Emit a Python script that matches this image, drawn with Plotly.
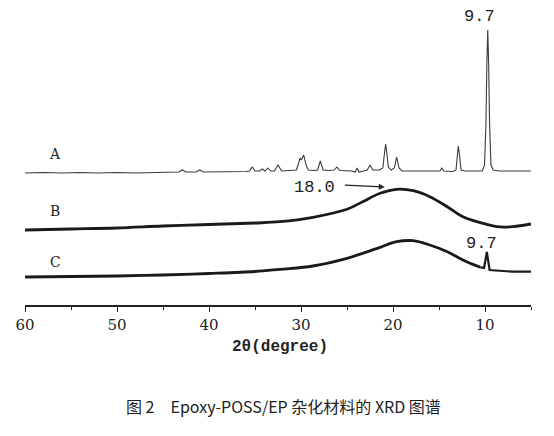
import plotly.graph_objects as go

# XRD patterns of Epoxy-POSS/EP hybrids (stacked, a.u.)
# curve A: crystalline Epoxy-POSS
theta_a = [60, 58, 56, 54, 52, 50, 48, 46, 44, 43.3, 42.9, 42.5, 41.4, 41, 40.6, 39, 37, 36,
           35.6, 35.3, 35.0, 34.5, 34.2, 33.9, 33.6, 33.3, 32.9, 32.5, 32.1, 31, 30.5, 30.25,
           30.1, 29.95, 29.7, 29.45, 29.2, 28.5, 28.2, 27.9, 27.6, 27, 26.4, 26.1, 25.8, 24.5,
           24.1, 23.9, 23.7, 23.2, 22.8, 22.5, 22.2, 21.5, 21.1, 20.95, 20.8, 20.65, 20.5, 20.2,
           19.85, 19.6, 19.35, 19.0, 17, 15, 14.9, 14.7, 14.5, 13.5, 13.15, 13.0, 12.9, 12.75,
           12.6, 12.2, 11, 10.3, 10.05, 9.9, 9.8, 9.7, 9.6, 9.5, 9.35, 9.1, 8.5, 7, 6, 5]
int_a = [132, 132.5, 132, 132.5, 132, 132.5, 132, 132.5, 133, 133, 135, 133, 133, 135, 133, 133,
         133.5, 133.5, 134, 138, 134, 134, 136, 134, 137, 134, 134, 140, 134, 134.5, 135, 142,
         147, 145, 150, 140, 135, 134.5, 135, 144, 135, 134.5, 135, 138, 134.5, 134, 133, 137,
         133, 134, 135, 140, 135, 135, 137, 150, 161, 150, 138, 135, 137, 148, 137, 134, 134,
         134, 134, 137, 134, 133.5, 135, 150, 159, 148, 135, 134, 134, 134, 140, 180, 240, 275,
         240, 180, 140, 135, 134, 134, 134, 134]

# curve B: amorphous hump near 18-19 deg
theta_b = [60, 55, 50, 45, 40, 35, 32.3, 28.7, 25.0, 23.3, 21.4, 19.6, 17.8, 16.0, 14.1, 12.4,
           10.5, 8.7, 7.0, 5]
int_b = [75, 76, 77, 79, 80.5, 82, 83.3, 87.7, 95.7, 103.3, 111.7, 115.7, 114.3, 108.3, 98.3,
         88.3, 82.3, 78.3, 78.3, 81]

# curve C: hump plus small 9.7 deg reflection
theta_c = [60, 55, 50, 45, 40, 35, 32.3, 28.7, 25.0, 23.3, 21.4, 19.6, 17.8, 16.0, 14.1, 12.4,
           10.5, 10.1, 9.8, 9.5, 7.0, 5]
int_c = [28, 28.5, 29, 30, 31.5, 33.5, 35.7, 39, 46.7, 51.7, 57.7, 63.3, 64.3, 60, 53.3, 45,
         37.7, 37, 53, 35, 33.3, 33.3]

x_ticks = [60, 50, 40, 30, 20, 10]
x_minor = [55, 45, 35, 25, 15, 5]

fig = go.Figure()
fig.add_trace(go.Scatter(x=theta_a, y=int_a, mode="lines",
                         line=dict(color="#3a3a3a", width=1.1)))
fig.add_trace(go.Scatter(x=theta_b, y=int_b, mode="lines",
                         line=dict(color="#1a1a1a", width=2.8, shape="spline", smoothing=1)))
fig.add_trace(go.Scatter(x=theta_c[:17], y=int_c[:17], mode="lines",
                         line=dict(color="#1a1a1a", width=2.8, shape="spline", smoothing=1)))
fig.add_trace(go.Scatter(x=theta_c[16:], y=int_c[16:], mode="lines",
                         line=dict(color="#1a1a1a", width=2.2)))

lab_font = dict(family="DejaVu Serif", size=14, color="#222")
mono = dict(family="Liberation Mono", size=17, color="#222")
for txt, yv in [("A", 151), ("B", 94), ("C", 43)]:
    fig.add_annotation(x=56.7, y=yv, text=txt, showarrow=False, font=lab_font)
fig.add_annotation(x=10.65, y=289, text="9.7", showarrow=False, font=mono)
fig.add_annotation(x=10.4, y=62, text="9.7", showarrow=False, font=mono)
fig.add_annotation(x=28.5, y=118, text="18.0", showarrow=False, font=mono)
fig.add_annotation(x=20.9, y=118, ax=25.4, ay=120, axref="x", ayref="y", text="",
                   showarrow=True, arrowhead=2, arrowsize=1, arrowwidth=1.2,
                   arrowcolor="#222")

fig.add_annotation(x=0.504, y=-0.178, xref="paper", yref="paper", text="<b>2θ(degree)</b>",
                   showarrow=False, font=dict(family="Liberation Mono", size=16, color="#222"))
fig.add_annotation(x=0.51, y=-0.387, xref="paper", yref="paper",
                   text="图 2　Epoxy-POSS/EP 杂化材料的 XRD 图谱", showarrow=False,
                   font=dict(family="Noto Sans CJK SC", size=16, color="#222"))

fig.update_xaxes(range=[60, 5], tickvals=x_ticks, ticks="outside", ticklen=5, tickwidth=1.3,
                 tickcolor="#222", showline=True, linecolor="#222", linewidth=1.5,
                 showgrid=False, zeroline=False,
                 tickfont=dict(family="DejaVu Serif", size=15, color="#222"),
                 minor=dict(tickvals=x_minor, ticks="outside", ticklen=3,
                            tickwidth=1.2, tickcolor="#222"))
fig.update_yaxes(range=[0, 297], visible=False)
fig.update_layout(width=546, height=428, template="plotly_white", showlegend=False,
                  plot_bgcolor="white", paper_bgcolor="white",
                  margin=dict(l=17, r=23, t=0, b=131))
fig.write_html("out.html")
